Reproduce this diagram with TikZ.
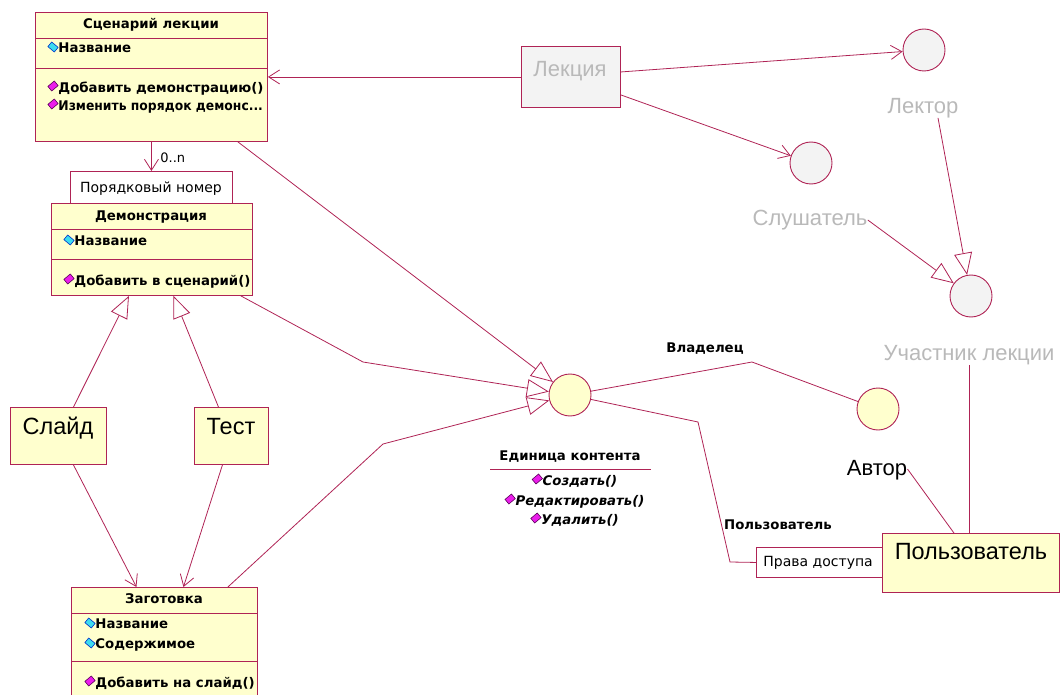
\documentclass[tikz,border=0pt]{standalone}
\usepackage{fontspec}
\usepackage{graphicx}
\setmainfont{DejaVu Sans}
\newfontfamily\arialf{Liberation Sans}
\usetikzlibrary{arrows.meta}

\definecolor{lc}{RGB}{175,35,85}
\definecolor{cf}{RGB}{255,255,206}
\definecolor{gf}{RGB}{243,243,243}
\definecolor{gt}{RGB}{185,185,185}
\definecolor{opf}{RGB}{235,30,235}
\definecolor{opd}{RGB}{90,0,90}
\definecolor{atf}{RGB}{60,220,240}
\definecolor{atd}{RGB}{0,50,200}

\tikzset{
  opicon/.pic={\draw[opd,fill=opf,line width=0.6pt,rotate=40] (-4.2,-3) rectangle (4.2,3);},
  aticon/.pic={\draw[atd,fill=atf,line width=0.6pt,rotate=-40] (-4.2,-3) rectangle (4.2,3);},
}

\begin{document}
\begin{tikzpicture}[x=1pt,y=-1pt,line width=0.8pt,
  cls/.style={draw=lc,fill=cf,line width=0.9pt,inner sep=0pt,anchor=north west},
  grey box/.style={draw=lc,fill=gf,line width=0.9pt,inner sep=0pt,anchor=north west},
  qual/.style={draw=lc,fill=white,line width=0.9pt,inner sep=0pt,anchor=north west},
  icon/.style={circle,draw=lc,fill=cf,line width=0.9pt,minimum size=42pt,inner sep=0pt},
  grey icon/.style={icon,fill=gf},
  bl/.style={font=\fontsize{13.3}{15}\selectfont\bfseries,inner sep=0pt,text height=9.5pt,text depth=2.5pt},
  mem/.style={bl,anchor=west},
  ital/.style={font=\fontsize{13.3}{15}\selectfont\bfseries\itshape,inner sep=0pt,text height=9.5pt,text depth=2.5pt},
  rg/.style={font=\fontsize{14}{16}\selectfont,inner sep=0pt,text height=10pt,text depth=3pt},
  big/.style={font=\arialf\fontsize{23.5}{26}\selectfont,inner sep=0pt,text height=17pt,text depth=5pt},
  gl/.style={font=\arialf\fontsize{22}{24}\selectfont,text=gt,inner sep=0pt,text height=15pt,text depth=4pt},
  link/.style={draw=lc,line width=0.8pt},
  nav/.style={link,-{Straight Barb[length=11pt,width=14pt]}},
  gen/.style={link,-{Triangle[open,length=22pt,width=18pt,fill=white]}},
]
\useasboundingbox (0,0) rectangle (1063,695);
\clip (0,0) rectangle (1063,695);

% ---------- class "Сценарий лекции"
\node[cls,minimum width=232pt,minimum height=129pt] (scen) at (35,12) {};
\draw[lc,line width=0.9pt] ([yshift=-26pt]scen.north west) -- ([yshift=-26pt]scen.north east);
\draw[lc,line width=0.9pt] ([yshift=-56pt]scen.north west) -- ([yshift=-56pt]scen.north east);
\node[bl] (scenT) at (151,25) {Сценарий лекции};
\node[mem] (scenA) at (58,49) {Название};
\node[mem] (scenO1) at (58,89) {Добавить демонстрацию()};
\node[mem] (scenO2) at (58,107) {\scalebox{0.93}[1]{Изменить порядок демонс...}};
\pic at ([shift={(-5pt,2pt)}]scenA.west) {aticon};
\pic at ([shift={(-5pt,3pt)}]scenO1.west) {opicon};
\pic at ([shift={(-5pt,3pt)}]scenO2.west) {opicon};

% ---------- qualifier and class "Демонстрация"
\node[qual,minimum width=162pt,minimum height=32pt] (qbox) at (70,171) {};
\node[rg] (qT) at (151,189) {Порядковый номер};
\node[cls,minimum width=201pt,minimum height=92pt] (demo) at (51,203) {};
\draw[lc,line width=0.9pt] ([yshift=-26pt]demo.north west) -- ([yshift=-26pt]demo.north east);
\draw[lc,line width=0.9pt] ([yshift=-56pt]demo.north west) -- ([yshift=-56pt]demo.north east);
\node[bl] (demoT) at (151,217) {Демонстрация};
\node[mem] (demoA) at (74,242) {Название};
\node[mem] (demoO) at (74,282) {Добавить в сценарий()};
\pic at ([shift={(-5pt,2pt)}]demoA.west) {aticon};
\pic at ([shift={(-5pt,3pt)}]demoO.west) {opicon};

% ---------- subclasses
\node[cls,minimum width=96pt,minimum height=57pt] (slide) at (10,407) {};
\node[big] (slideT) at (58,428) {Слайд};
\node[cls,minimum width=74pt,minimum height=57pt] (test) at (194,407) {};
\node[big] (testT) at (231,428) {Тест};

% ---------- class "Заготовка"
\node[cls,minimum width=186pt,minimum height=120pt] (zag) at (71,587) {};
\draw[lc,line width=0.9pt] ([yshift=-26pt]zag.north west) -- ([yshift=-26pt]zag.north east);
\draw[lc,line width=0.9pt] ([yshift=-74pt]zag.north west) -- ([yshift=-74pt]zag.north east);
\node[bl] (zagT) at (164,600) {Заготовка};
\node[mem] (zagA1) at (95,625) {Название};
\node[mem] (zagA2) at (95,645) {Содержимое};
\node[mem] (zagO) at (95,684) {Добавить на слайд()};
\pic at ([shift={(-5pt,2pt)}]zagA1.west) {aticon};
\pic at ([shift={(-5pt,2pt)}]zagA2.west) {aticon};
\pic at ([shift={(-5pt,3pt)}]zagO.west) {opicon};

% ---------- "Лекция" and the roles
\node[grey box,minimum width=99pt,minimum height=61pt] (lek) at (521,46) {};
\node[gl] (lekT) at (570,71) {Лекция};
\node[grey icon] (lector) at (924,50) {};
\node[gl] (lectorT) at (923,108) {Лектор};
\node[grey icon] (listener) at (811,163) {};
\node[gl] (listenerT) at (810,220) {Слушатель};
\node[grey icon] (part) at (971,296) {};
\node[gl] (partT) at (969,355) {Участник лекции};

% ---------- content unit
\node[icon] (unit) at (570,395) {};
\node[bl] (unitT) at (570,457) {Единица контента};
\coordinate (ulL) at (490,469);
\coordinate (ulR) at (651,469);
\draw[lc,line width=0.9pt] (ulL) -- (ulR);
\node[ital] (unitO1) at (580,482) {Создать()};
\node[ital] (unitO2) at (580,502) {Редактировать()};
\node[ital] (unitO3) at (580,521) {Удалить()};
\pic at ([shift={(-5pt,3pt)}]unitO1.west) {opicon};
\pic at ([shift={(-5pt,3pt)}]unitO2.west) {opicon};
\pic at ([shift={(-5pt,3pt)}]unitO3.west) {opicon};

% ---------- author and user
\node[icon] (author) at (878,409) {};
\node[big,font=\arialf\fontsize{22}{24}\selectfont] (authorT) at (877,469) {Автор};
\node[qual,minimum width=126pt,minimum height=30pt] (rights) at (756,547) {};
\node[rg,anchor=west] (rightsT) at (763,563) {Права доступа};
\node[cls,minimum width=177pt,minimum height=59pt] (user) at (882,533) {};
\node[big] (userT) at (971,553) {Пользователь};

% ---------- association bends
\coordinate (own) at (752,362);
\coordinate (ub1) at (698,422);
\coordinate (ub2) at (730,562);
\coordinate (db) at (363,362);
\coordinate (zb) at (383,444);

% ---------- connectors
\draw[nav] (lek.west) -- (lek.west -| scen.east);
\draw[nav] ([yshift=5pt]lek.east) -- (lector);
\draw[nav] ([yshift=-18pt]lek.east) -- (listener);
\draw[gen] ([xshift=15pt]lectorT.south) -- (part);
\draw[gen] (listenerT.east) -- (part);
\draw[link] (partT.south) -- (partT.south |- user.north);
\draw[link] (authorT.east) -- ([xshift=-17pt]user.north);

\draw[nav] (scen.south) -- (qbox.north);
\node[font=\fontsize{13}{15}\selectfont,inner sep=0pt,anchor=west] (mult) at (160,158) {0..n};

\draw[gen] ([xshift=-30pt]scen.south east) -- (unit);
\draw[gen] ([xshift=-12pt]demo.south east) -- (db) -- (unit);
\draw[gen] ([xshift=-30pt]zag.north east) -- (zb) -- (unit);

\draw[gen] ([xshift=15pt]slide.north) -- ([xshift=-23pt]demo.south);
\draw[gen] ([xshift=-13pt]test.north) -- ([xshift=21.5pt]demo.south);
\draw[nav] ([xshift=15pt]slide.south) -- ([xshift=-28pt]zag.north);
\draw[nav] ([xshift=-9pt]test.south) -- ([xshift=19pt]zag.north);

\draw[link] (unit) -- (own) -- (author);
\node[bl] (ownT) at (705,349) {Владелец};
\draw[link] (unit) -- (ub1) -- (ub2) -- (rights.west);
\node[bl] (userRole) at (778,526) {Пользователь};
\end{tikzpicture}
\end{document}
